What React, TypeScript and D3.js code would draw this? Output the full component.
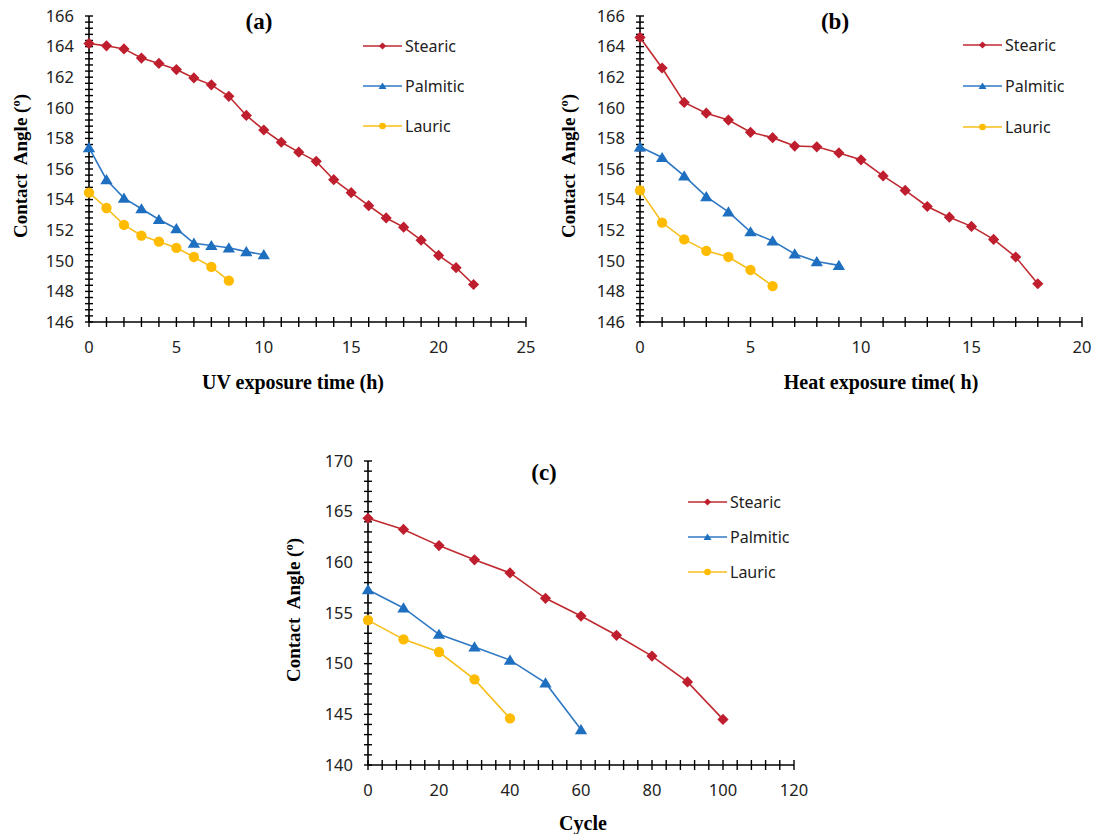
import React from "react";
import * as d3 from "d3";

// ---------- data ----------
const seriesNames = ["Stearic", "Palmitic", "Lauric"];

// Panel (a): UV exposure time (h)
const aStearicX = [0, 1, 2, 3, 4, 5, 6, 7, 8, 9, 10, 11, 12, 13, 14, 15, 16, 17, 18, 19, 20, 21, 22];
const aStearicY = [164.2, 164.05, 163.85, 163.25, 162.9, 162.5, 161.95, 161.5, 160.75, 159.5, 158.55, 157.75, 157.1, 156.5, 155.3, 154.45, 153.6, 152.8, 152.2, 151.35, 150.35, 149.55, 148.45];
const aPalmiticX = [0, 1, 2, 3, 4, 5, 6, 7, 8, 9, 10];
const aPalmiticY = [157.4, 155.3, 154.1, 153.4, 152.7, 152.1, 151.15, 151.0, 150.85, 150.6, 150.4];
const aLauricX = [0, 1, 2, 3, 4, 5, 6, 7, 8];
const aLauricY = [154.45, 153.45, 152.35, 151.65, 151.25, 150.85, 150.25, 149.6, 148.7];

// Panel (b): Heat exposure time (h)
const bStearicX = [0, 1, 2, 3, 4, 5, 6, 7, 8, 9, 10, 11, 12, 13, 14, 15, 16, 17, 18];
const bStearicY = [164.6, 162.6, 160.35, 159.65, 159.2, 158.4, 158.05, 157.5, 157.45, 157.05, 156.6, 155.55, 154.6, 153.55, 152.85, 152.25, 151.4, 150.25, 148.5];
const bPalmiticX = [0, 1, 2, 3, 4, 5, 6, 7, 8, 9];
const bPalmiticY = [157.45, 156.75, 155.55, 154.2, 153.2, 151.9, 151.3, 150.45, 149.95, 149.7];
const bLauricX = [0, 1, 2, 3, 4, 5, 6];
const bLauricY = [154.6, 152.5, 151.4, 150.65, 150.25, 149.4, 148.35];

// Panel (c): Cycle
const cStearicX = [0, 10, 20, 30, 40, 50, 60, 70, 80, 90, 100];
const cStearicY = [164.35, 163.25, 161.65, 160.25, 158.95, 156.45, 154.7, 152.8, 150.75, 148.2, 144.5];
const cPalmiticX = [0, 10, 20, 30, 40, 50, 60];
const cPalmiticY = [157.3, 155.5, 152.9, 151.65, 150.35, 148.1, 143.5];
const cLauricX = [0, 10, 20, 30, 40];
const cLauricY = [154.3, 152.4, 151.15, 148.45, 144.6];

const aXTicks = [0, 5, 10, 15, 20, 25];
const aYTicks = [146, 148, 150, 152, 154, 156, 158, 160, 162, 164, 166];
const bXTicks = [0, 5, 10, 15, 20];
const bYTicks = [146, 148, 150, 152, 154, 156, 158, 160, 162, 164, 166];
const cXTicks = [0, 20, 40, 60, 80, 100, 120];
const cYTicks = [140, 145, 150, 155, 160, 165, 170];

// ---------- styles ----------
const colors = ["#BF1E2E", "#1F6FC0", "#FFBB00"];
const lineColors = ["#BF2A30", "#2E78C4", "#F7BE1A"];
const shapes = ["diamond", "triangle", "circle"];
const SANS = "'Noto Sans', 'Open Sans', sans-serif";
const SERIF = "'Liberation Serif', 'Times New Roman', serif";

type Series = { xs: number[]; ys: number[] };

type PanelProps = {
  left: number; right: number; top: number; bottom: number;
  xDomain: [number, number]; yDomain: [number, number];
  xTicks: number[]; yTicks: number[];
  xMinor: number; yMinor: number;
  series: Series[];
  label: string; labelX: number; labelY: number;
  xTitle: string; xTitleX: number; xTitleY: number;
  yTitleX: number;
  legendX: number; legendY: number; legendGap: number;
};

function Marker({ shape, x, y, s, color }: { shape: string; x: number; y: number; s: number; color: string }) {
  if (shape === "diamond") {
    return <path d={`M${x},${y - s}L${x + s},${y}L${x},${y + s}L${x - s},${y}Z`} fill={color} />;
  }
  if (shape === "triangle") {
    const w = s * 1.1;
    return <path d={`M${x},${y - s}L${x + w},${y + s * 0.82}L${x - w},${y + s * 0.82}Z`} fill={color} />;
  }
  return <circle cx={x} cy={y} r={s * 0.92} fill={color} />;
}

function Panel(p: PanelProps) {
  const x = d3.scaleLinear().domain(p.xDomain).range([p.left, p.right]);
  const y = d3.scaleLinear().domain(p.yDomain).range([p.bottom, p.top]);
  const xMinorTicks = d3.range(p.xDomain[0], p.xDomain[1] + 1e-9, p.xMinor);
  const yMinorTicks = d3.range(p.yDomain[0], p.yDomain[1] + 1e-9, p.yMinor);
  const line = d3.line<[number, number]>().x((d) => x(d[0])).y((d) => y(d[1]));
  return (
    <g>
      {/* axes */}
      <line x1={p.left} x2={p.left} y1={p.top} y2={p.bottom} stroke="#000" strokeWidth={1.6} />
      <line x1={p.left} x2={p.right} y1={p.bottom} y2={p.bottom} stroke="#000" strokeWidth={1.6} />
      {yMinorTicks.map((v, i) => (
        <line key={"ym" + i} x1={p.left - 4} x2={p.left + 4} y1={y(v)} y2={y(v)} stroke="#000" strokeWidth={1.4} />
      ))}
      {xMinorTicks.map((v, i) => (
        <line key={"xm" + i} x1={x(v)} x2={x(v)} y1={p.bottom - 5} y2={p.bottom + 5} stroke="#000" strokeWidth={1.4} />
      ))}
      {p.yTicks.map((v) => (
        <text key={"yt" + v} x={p.left - 15} y={y(v)} dy="0.35em" textAnchor="end" fontFamily={SANS} fontSize={16.5} fill="#222">
          {v}
        </text>
      ))}
      {p.xTicks.map((v) => (
        <text key={"xt" + v} x={x(v)} y={p.bottom + 25} dy="0.35em" textAnchor="middle" fontFamily={SANS} fontSize={16.5} fill="#222">
          {v}
        </text>
      ))}
      {/* series */}
      {p.series.map((s, si) => {
        const pts: [number, number][] = s.xs.map((xv, i) => [xv, s.ys[i]]);
        return (
          <g key={"s" + si}>
            <path d={line(pts) || ""} fill="none" stroke={lineColors[si]} strokeWidth={1.6} />
            {pts.map((pt, i) => (
              <Marker key={i} shape={shapes[si]} x={x(pt[0])} y={y(pt[1])} s={5.6} color={colors[si]} />
            ))}
          </g>
        );
      })}
      {/* legend */}
      {seriesNames.map((n, i) => {
        const ly = p.legendY + i * p.legendGap;
        return (
          <g key={"lg" + i}>
            <line x1={p.legendX} x2={p.legendX + 39} y1={ly} y2={ly} stroke={lineColors[i]} strokeWidth={1.6} />
            <Marker shape={shapes[i]} x={p.legendX + 19.5} y={ly} s={3.6} color={colors[i]} />
            <text x={p.legendX + 42} y={ly} dy="0.35em" fontFamily={SANS} fontSize={16} fill="#222">
              {n}
            </text>
          </g>
        );
      })}
      {/* titles */}
      <text x={p.labelX} y={p.labelY} textAnchor="middle" fontFamily={SERIF} fontWeight="bold" fontSize={23} fill="#000">
        {p.label}
      </text>
      <text x={p.xTitleX} y={p.xTitleY} dy="0.35em" textAnchor="middle" fontFamily={SERIF} fontWeight="bold" fontSize={20} fill="#000">
        {p.xTitle}
      </text>
      <text
        transform={`translate(${p.yTitleX},${(p.top + p.bottom) / 2 - 3}) rotate(-90)`}
        dy="0.35em"
        textAnchor="middle"
        fontFamily={SERIF}
        fontWeight="bold"
        fontSize={19}
        fill="#000"
        style={{ whiteSpace: "pre" }}
      >
        {"Contact  Angle (º)"}
      </text>
    </g>
  );
}

export default function App() {
  return (
    <svg width={1097} height={834} style={{ position: "absolute", left: 0, top: 0, background: "#fff" }}>
      <rect width={1097} height={834} fill="#fff" />
      <Panel
        left={89} right={526} top={16} bottom={322}
        xDomain={[0, 25]} yDomain={[146, 166]}
        xTicks={aXTicks} yTicks={aYTicks} xMinor={1} yMinor={0.4}
        series={[{ xs: aStearicX, ys: aStearicY }, { xs: aPalmiticX, ys: aPalmiticY }, { xs: aLauricX, ys: aLauricY }]}
        label="(a)" labelX={259} labelY={29}
        xTitle="UV exposure time (h)" xTitleX={293} xTitleY={382}
        yTitleX={20}
        legendX={363} legendY={46} legendGap={40}
      />
      <Panel
        left={640} right={1082} top={16} bottom={322}
        xDomain={[0, 20]} yDomain={[146, 166]}
        xTicks={bXTicks} yTicks={bYTicks} xMinor={1} yMinor={0.4}
        series={[{ xs: bStearicX, ys: bStearicY }, { xs: bPalmiticX, ys: bPalmiticY }, { xs: bLauricX, ys: bLauricY }]}
        label="(b)" labelX={835} labelY={29}
        xTitle="Heat exposure time( h)" xTitleX={881} xTitleY={382}
        yTitleX={568}
        legendX={963} legendY={45} legendGap={41}
      />
      <Panel
        left={368} right={794} top={461} bottom={765}
        xDomain={[0, 120]} yDomain={[140, 170]}
        xTicks={cXTicks} yTicks={cYTicks} xMinor={4} yMinor={1}
        series={[{ xs: cStearicX, ys: cStearicY }, { xs: cPalmiticX, ys: cPalmiticY }, { xs: cLauricX, ys: cLauricY }]}
        label="(c)" labelX={544} labelY={480}
        xTitle="Cycle" xTitleX={583} xTitleY={823}
        yTitleX={293}
        legendX={688} legendY={502} legendGap={35}
      />
    </svg>
  );
}
